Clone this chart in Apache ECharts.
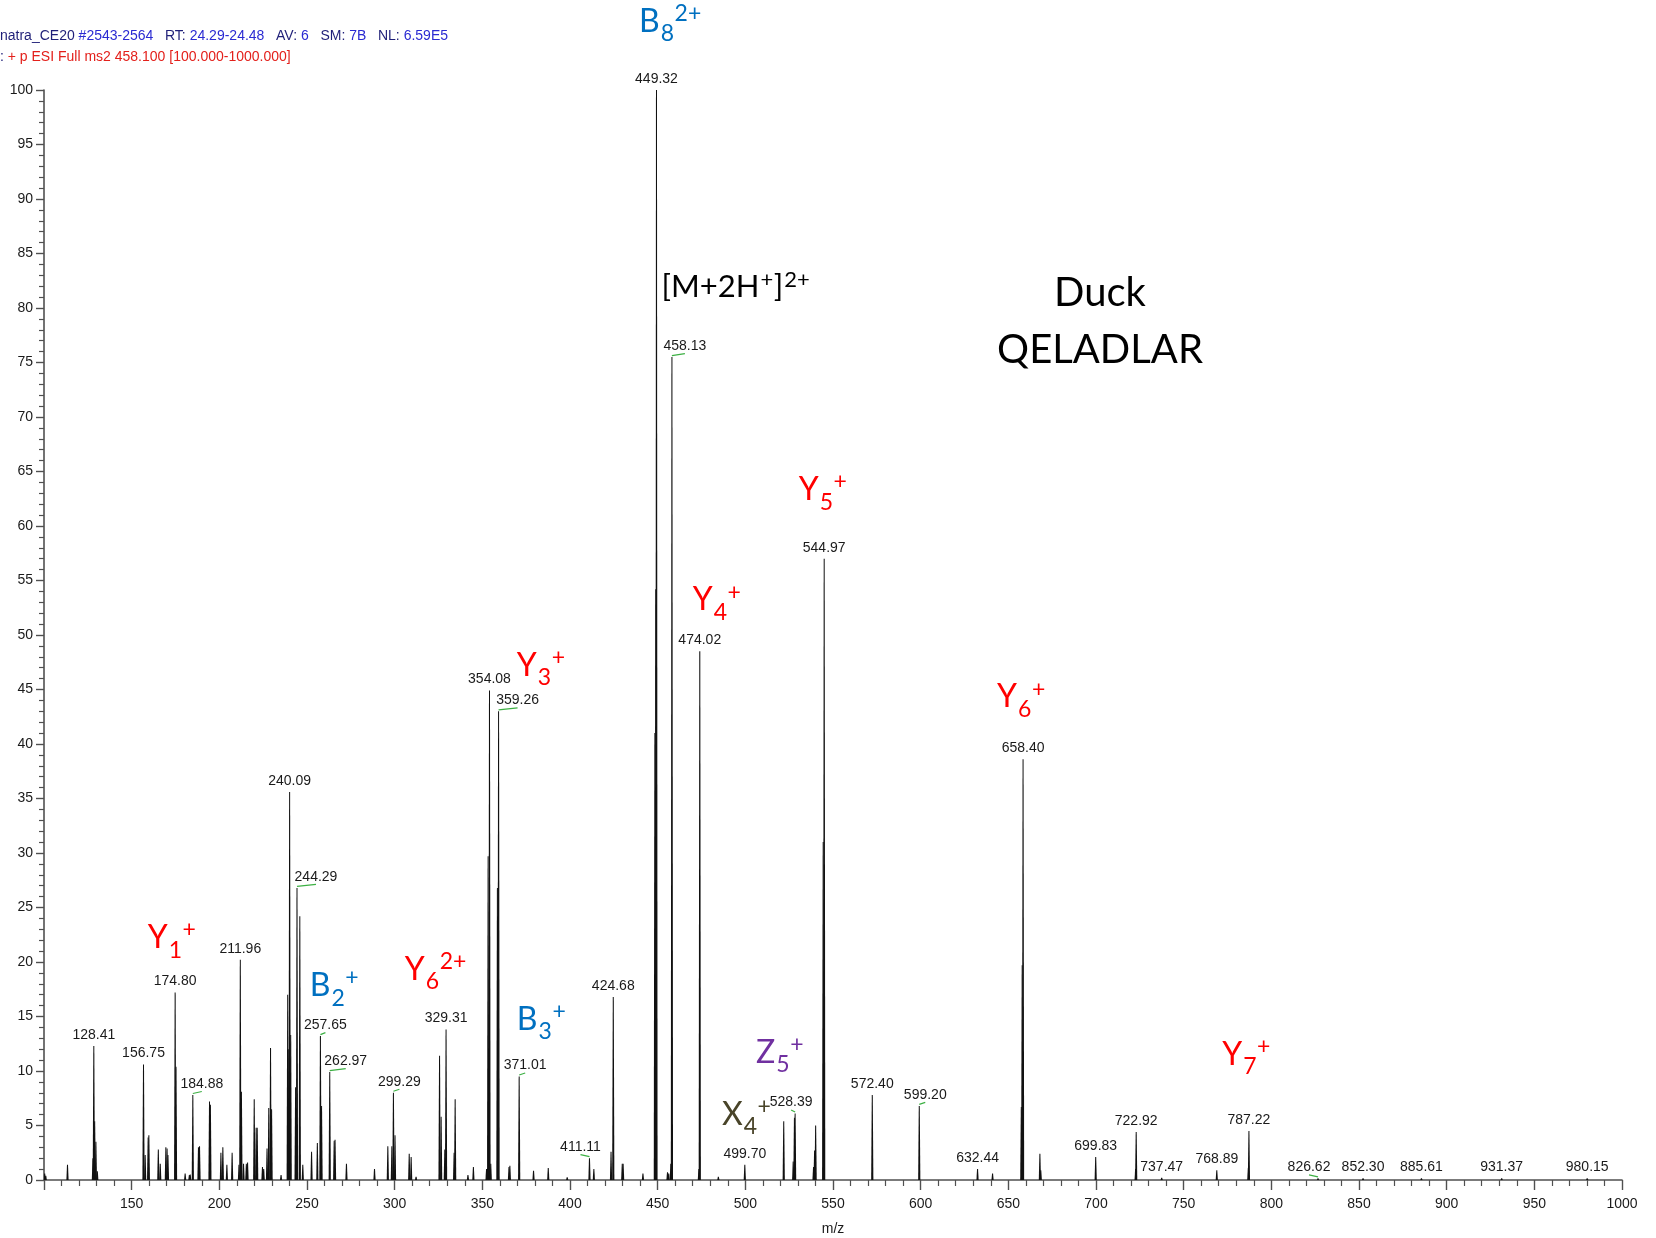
<!DOCTYPE html>
<html>
<head>
<meta charset="utf-8">
<title>Duck QELADLAR MS2 spectrum</title>
<script src="https://cdn.jsdelivr.net/npm/echarts@6/dist/echarts.min.js"></script>
<style>
  html, body { margin: 0; padding: 0; background: #ffffff; }
  #chart { width: 1656px; height: 1238px; }
</style>
</head>
<body>
<div id="chart"></div>
<script>
// ---- Spectrum data: centroid m/z and relative abundance (%) ----
const peakMz = [
  100.4, 101.0, 113.4, 127.9, 128.41, 128.9, 129.6, 130.4,
  156.75, 157.7, 159.4, 159.8, 165.2, 166.3, 169.5, 170.2, 170.7,
  174.80, 175.3, 180.5, 182.9, 183.4, 184.88, 188.1, 188.7,
  194.4, 194.9, 200.9, 202.0, 204.3, 207.3, 211.2, 211.96, 212.6,
  213.8, 215.4, 216.1, 219.9, 221.0, 221.6, 224.6, 225.3, 227.2, 228.2, 229.2, 229.8,
  235.2, 239.0, 239.6, 240.09, 240.7, 243.5, 244.29, 245.9, 247.6,
  252.6, 255.9, 257.65, 258.3, 262.97, 265.5, 266.0, 272.5,
  288.5, 296.1, 298.4, 299.29, 300.2, 308.3, 309.4, 312.2,
  325.6, 326.5, 328.6, 329.31, 333.9, 334.5, 341.8, 344.9,
  352.4, 353.3, 354.08, 354.8, 358.6, 359.26, 365.2, 365.7, 371.01,
  379.2, 387.6, 398.4, 411.11, 413.6, 423.4, 424.68, 429.8, 430.3, 441.6,
  448.4, 448.9, 449.32, 455.6, 456.3, 457.5, 458.13, 473.5, 474.02, 484.6,
  499.70, 521.9, 527.3, 528.0, 528.39, 538.9, 539.5, 540.1, 544.4, 544.97,
  572.40, 599.20, 632.44, 641.0, 657.4, 657.9, 658.40, 668.0, 668.5,
  699.83, 722.6, 722.92, 737.47, 768.89, 786.9, 787.22,
  826.62, 852.30, 885.61, 931.37, 980.15
];
const peakIntensity = [
  0.6, 0.4, 1.4, 2.0, 12.3, 5.4, 3.5, 0.8,
  10.6, 2.3, 3.9, 4.1, 2.8, 1.5, 3.0, 2.9, 2.3,
  17.2, 10.4, 0.6, 0.45, 0.5, 7.8, 3.0, 3.1,
  7.2, 6.9, 2.5, 3.0, 1.4, 2.5, 1.4, 20.2, 8.1,
  1.5, 1.5, 1.6, 7.4, 4.8, 4.8, 1.2, 1.0, 2.9, 6.6, 12.1, 6.5,
  0.45, 17.0, 12.0, 35.6, 13.3, 8.5, 26.8, 24.2, 1.4,
  2.6, 3.4, 13.2, 6.8, 9.9, 3.6, 3.7, 1.5,
  1.0, 3.1, 3.1, 8.0, 4.1, 2.4, 2.1, 0.3,
  11.4, 5.8, 2.8, 13.8, 2.5, 7.4, 0.45, 1.2,
  1.0, 29.7, 44.9, 1.5, 26.8, 43.0, 1.2, 1.3, 9.5,
  0.85, 1.1, 0.25, 2.0, 1.0, 2.6, 16.8, 1.5, 1.5, 0.6,
  41.0, 54.2, 100, 0.7, 0.6, 1.5, 75.5, 1.0, 48.5, 0.3,
  1.4, 5.4, 1.7, 5.7, 6.1, 1.2, 2.7, 5.0, 31.0, 57.0,
  7.8, 6.8, 1.0, 0.6, 6.7, 19.7, 38.6, 2.4, 0.9,
  2.1, 1.0, 4.4, 0.2, 0.9, 1.1, 4.5,
  0.15, 0.15, 0.15, 0.15, 0.15
];

// Peaks annotated with their m/z value
const labelledMz = [
  128.41, 156.75, 174.80, 184.88, 211.96, 240.09, 244.29, 257.65, 262.97,
  299.29, 329.31, 354.08, 359.26, 371.01, 411.11, 424.68, 449.32, 458.13,
  474.02, 499.70, 528.39, 544.97, 572.40, 599.20, 632.44, 658.40, 699.83,
  722.92, 737.47, 768.89, 787.22, 826.62, 852.30, 885.61, 931.37, 980.15
];

// Axis ticks
const xTicks = { min: 100, max: 1000, step: 50 };
const yTicks = { min: 0, max: 100, step: 5 };

// Fragment-ion assignments (text runs: n = normal, sub, sup)
const ionNames = [
  [['B', 'n'], ['8', 'sub'], ['2+', 'sup']],
  [['[M+2H', 'n'], ['+', 'sup'], [']', 'n'], ['2+', 'sup']],
  [['Duck', 'n']],
  [['QELADLAR', 'n']],
  [['Y', 'n'], ['5', 'sub'], ['+', 'sup']],
  [['Y', 'n'], ['4', 'sub'], ['+', 'sup']],
  [['Y', 'n'], ['3', 'sub'], ['+', 'sup']],
  [['Y', 'n'], ['6', 'sub'], ['+', 'sup']],
  [['Y', 'n'], ['1', 'sub'], ['+', 'sup']],
  [['Y', 'n'], ['6', 'sub'], ['2+', 'sup']],
  [['B', 'n'], ['2', 'sub'], ['+', 'sup']],
  [['B', 'n'], ['3', 'sub'], ['+', 'sup']],
  [['Z', 'n'], ['5', 'sub'], ['+', 'sup']],
  [['X', 'n'], ['4', 'sub'], ['+', 'sup']],
  [['Y', 'n'], ['7', 'sub'], ['+', 'sup']]
];

// ---- Layout / styling (kept apart from the data) ----
const BLUE = '#0070C0', RED = '#FF0000', PURPLE = '#7030A0', OLIVE = '#494429', BLACK = '#000000';
// anchor in data units [m/z, %] (left edge, middle of capitals), colour, size, centred?
const ionPlacement = [
  { at: [439.4, 106.3], color: BLUE,   size: 32 },
  { at: [452.2, 81.9],  color: BLACK,  size: 31 },
  { at: [702.3, 81.4],  color: BLACK,  size: 40, center: true },
  { at: [702.3, 76.1],  color: BLACK,  size: 40, center: true },
  { at: [530.5, 63.3],  color: RED,    size: 32 },
  { at: [470.0, 53.2],  color: RED,    size: 32 },
  { at: [369.7, 47.2],  color: RED,    size: 32 },
  { at: [643.6, 44.3],  color: RED,    size: 32 },
  { at: [159.2, 22.2],  color: RED,    size: 32 },
  { at: [305.8, 19.3],  color: RED,    size: 32 },
  { at: [251.6, 17.8],  color: BLUE,   size: 32 },
  { at: [369.7, 14.7],  color: BLUE,   size: 32 },
  { at: [506.1, 11.7],  color: PURPLE, size: 32 },
  { at: [486.7, 6.0],   color: OLIVE,  size: 32 },
  { at: [772.0, 11.5],  color: RED,    size: 32 }
];
// horizontal pixel nudge of crowded m/z labels (a green leader joins them to the peak)
const labelNudge = {
  '184.88': 9, '244.29': 19, '257.65': 5, '262.97': 16, '299.29': 6, '359.26': 19,
  '371.01': 6, '411.11': -9, '458.13': 13, '528.39': -4, '599.20': 6, '826.62': -9
};

const LABEL_FONT = '14px "Liberation Sans", Arial, sans-serif';
const TAG_FAMILY = 'Lato, "Open Sans", sans-serif';

const measureCtx = document.createElement('canvas').getContext('2d');
function textWidth(str, font) {
  measureCtx.font = font;
  return measureCtx.measureText(str).width;
}

const peakData = peakMz.map((m, i) => [m, peakIntensity[i]]);
const labelData = labelledMz.map(m => [m, peakIntensity[peakMz.indexOf(m)]]);
const tagData = ionPlacement.map(p => p.at);

const chart = echarts.init(document.getElementById('chart'), null, { renderer: 'canvas' });

const axisColor = '#505050';
const tickFont = { fontFamily: '"Liberation Sans", Arial, sans-serif', fontSize: 14, color: '#1a1a1a' };

chart.setOption({
  animation: false,
  backgroundColor: '#ffffff',
  grid: { left: 44, right: 34, top: 90, bottom: 58, containLabel: false, outerBoundsMode: 'none' },
  xAxis: {
    type: 'value',
    min: xTicks.min, max: xTicks.max, interval: xTicks.step,
    name: 'm/z', nameLocation: 'middle', nameGap: 42,
    nameTextStyle: tickFont,
    axisLine: { show: true, onZero: false, lineStyle: { color: axisColor, width: 1.6 } },
    axisTick: { show: true, length: 10, lineStyle: { color: axisColor, width: 1.4 } },
    minorTick: { show: true, splitNumber: 5, length: 6, lineStyle: { color: axisColor, width: 1.2 } },
    axisLabel: Object.assign({ margin: 17, showMinLabel: false, showMaxLabel: true, formatter: v => String(v) }, tickFont),
    splitLine: { show: false },
    minorSplitLine: { show: false }
  },
  yAxis: {
    type: 'value',
    min: yTicks.min, max: yTicks.max, interval: yTicks.step,
    axisLine: { show: true, onZero: false, lineStyle: { color: axisColor, width: 1.6 } },
    axisTick: { show: true, length: 8, lineStyle: { color: axisColor, width: 1.4 } },
    minorTick: { show: true, splitNumber: 5, length: 5, lineStyle: { color: axisColor, width: 1.2 } },
    axisLabel: Object.assign({ margin: 11, formatter: v => String(v) }, tickFont),
    splitLine: { show: false },
    minorSplitLine: { show: false }
  },
  graphic: [
    {
      type: 'text', left: 0, top: 29,
      style: {
        text: '{n|natra_CE20} {v|#2543-2564}   {n|RT:} {v|24.29-24.48}   {n|AV:} {v|6}   {n|SM:} {v|7B}   {n|NL:} {v|6.59E5}',
        font: '14px "Liberation Sans", Arial, sans-serif',
        rich: {
          n: { fill: '#1f1f78', color: '#1f1f78', font: '14px "Liberation Sans", Arial, sans-serif' },
          v: { fill: '#2a2ad2', color: '#2a2ad2', font: '14px "Liberation Sans", Arial, sans-serif' }
        }
      }
    },
    {
      type: 'text', left: 0, top: 50,
      style: {
        text: '{n|:} {r|+ p ESI Full ms2 458.100 [100.000-1000.000]}',
        font: '14px "Liberation Sans", Arial, sans-serif',
        rich: {
          n: { fill: '#1f1f78', color: '#1f1f78', font: '14px "Liberation Sans", Arial, sans-serif' },
          r: { fill: '#e3201b', color: '#e3201b', font: '14px "Liberation Sans", Arial, sans-serif' }
        }
      }
    }
  ],
  series: [
    {
      // profile sticks
      type: 'custom',
      coordinateSystem: 'cartesian2d',
      data: peakData,
      encode: { x: 0, y: 1 },
      clip: true,
      silent: true,
      renderItem(params, api) {
        const base = api.coord([api.value(0), 0]);
        const top = api.coord([api.value(0), api.value(1)]);
        return {
          type: 'polygon',
          shape: { points: [[base[0] - 1.1, base[1]], [top[0] - 0.5, top[1]], [top[0] + 0.5, top[1]], [base[0] + 1.1, base[1]]] },
          style: { fill: '#111111' }
        };
      }
    },
    {
      // m/z labels
      type: 'custom',
      coordinateSystem: 'cartesian2d',
      data: labelData,
      encode: { x: 0, y: 1 },
      clip: false,
      silent: true,
      z: 3,
      renderItem(params, api) {
        const mz = api.value(0);
        const top = api.coord([mz, api.value(1)]);
        const key = mz.toFixed(2);
        const nudge = labelNudge[key] || 0;
        const children = [{
          type: 'text', x: top[0] + nudge, y: top[1] - 11,
          style: { text: key, font: LABEL_FONT, fill: '#1a1a1a', align: 'center', verticalAlign: 'middle', textAlign: 'center', textVerticalAlign: 'middle' }
        }];
        if (nudge) {
          children.push({
            type: 'line',
            shape: { x1: top[0], y1: top[1] - 1.5, x2: top[0] + nudge, y2: top[1] - 3.5 },
            style: { stroke: '#3cb043', lineWidth: 1.2 }
          });
        }
        return { type: 'group', children };
      }
    },
    {
      // ion assignments
      type: 'custom',
      coordinateSystem: 'cartesian2d',
      data: tagData,
      encode: { x: 0, y: 1 },
      clip: false,
      silent: true,
      z: 4,
      renderItem(params, api) {
        const runs = ionNames[params.dataIndex];
        const place = ionPlacement[params.dataIndex];
        const p = api.coord([api.value(0), api.value(1)]);
        const main = place.size;
        const small = Math.round(main * 0.72);
        const fonts = {
          n: main + 'px ' + TAG_FAMILY,
          sub: small + 'px ' + TAG_FAMILY,
          sup: small + 'px ' + TAG_FAMILY
        };
        const dy = { n: 0, sub: main * 0.38, sup: -main * 0.25 };
        const widths = runs.map(r => textWidth(r[0], fonts[r[1]]));
        const total = widths.reduce((a, b) => a + b, 0);
        let x = place.center ? p[0] - total / 2 : p[0];
        const children = runs.map((r, i) => {
          const el = {
            type: 'text', x: x, y: p[1] + dy[r[1]],
            style: { text: r[0], font: fonts[r[1]], fill: place.color, align: 'left', verticalAlign: 'middle', textAlign: 'left', textVerticalAlign: 'middle' }
          };
          x += widths[i] + (r[1] === 'n' ? 1 : 0.5);
          return el;
        });
        return { type: 'group', children };
      }
    }
  ]
});
</script>
</body>
</html>
